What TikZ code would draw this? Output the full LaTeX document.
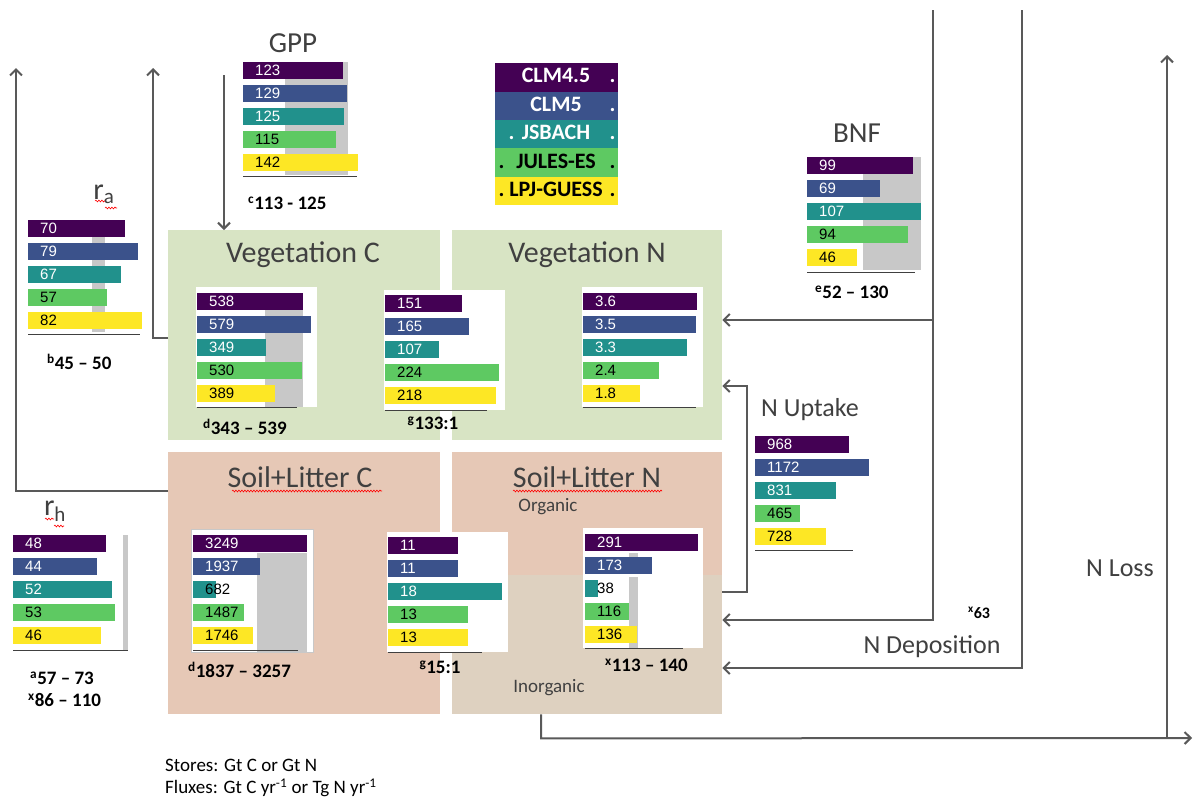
\documentclass[tikz,border=0pt]{standalone}
\usepackage{fontspec}
\setmainfont{Carlito}
\newfontfamily\numfont{Liberation Sans}
\usetikzlibrary{arrows.meta,decorations.pathmorphing}

%% model colours (viridis) and their label colours
\definecolor{m1}{HTML}{440154}
\definecolor{m2}{HTML}{3B528B}
\definecolor{m3}{HTML}{21918C}
\definecolor{m4}{HTML}{5EC962}
\definecolor{m5}{HTML}{FDE725}
\colorlet{t1}{white}\colorlet{t2}{white}\colorlet{t3}{white}
\colorlet{t4}{black}\colorlet{t5}{black}
\definecolor{vegcol}{RGB}{216,228,196}
\definecolor{soilcol}{RGB}{230,200,182}
\definecolor{inorgcol}{RGB}{222,209,192}
\definecolor{rangegray}{RGB}{200,200,200}
\definecolor{titlegray}{RGB}{64,64,64}
\definecolor{linegray}{RGB}{89,89,89}

%% one set of five bars: x, y of first bar, list of length/value
\newcommand{\barset}[3]{%
  \foreach \len/\val [count=\i] in {#3} {
    \pgfmathtruncatemacro\dk{(\len<30)||(\i>3)}
    \ifnum\dk=1 \def\tc{black}\else\def\tc{white}\fi
    \fill[m\i] (#1,{#2+(\i-1)*23}) rectangle ++(\len,17);
    \node[barnum,text=\tc] at ({#1+12},{#2+(\i-1)*23+8.5}) {\val};
  }}

\begin{document}
\begin{tikzpicture}
[x=1pt,y=-1pt,
  storebox/.style={fill=#1,inner sep=0pt,minimum width=272pt,anchor=north west},%
  boxtitle/.style={text=titlegray,inner sep=0pt,font=\fontsize{30}{32}\selectfont},%
  fluxtitle/.style={text=titlegray,inner sep=0pt,font=\fontsize{26}{28}\selectfont},%
  subtitle/.style={text=titlegray,inner sep=0pt,font=\fontsize{19}{20}\selectfont},%
  barnum/.style={anchor=west,inner sep=0pt,font=\numfont\fontsize{15}{15}\selectfont},%
  rangelabel/.style={inner sep=0pt,font=\bfseries\fontsize{19}{19}\selectfont},%
  legbox/.style={anchor=north,inner sep=0pt,minimum width=123pt,minimum height=28.4pt,text height=15pt,text depth=4pt,font=\bfseries\fontsize{22}{22}\selectfont},%
  axisline/.style={draw=titlegray,line width=0.8pt},%
  chartbg/.style={fill=white},%
  squiggle/.style={draw=red,line width=0.6pt,decorate,decoration={snake,amplitude=0.9pt,segment length=3pt}},%
  flux/.style={draw=linegray,line width=2pt,-{Straight Barb[length=6pt,width=12pt]}}]
\useasboundingbox (0,0) rectangle (1194,798);
\fill[white] (0,0) rectangle (1194,798);

%% stores
\node[storebox=vegcol,minimum height=210pt] (vegC) at (168,230) {};
\node[storebox=vegcol,minimum width=270pt,minimum height=210pt] (vegN) at (452,230) {};
\node[storebox=soilcol,minimum height=262pt] (soilC) at (168,452) {};
\node[storebox=soilcol,minimum width=270pt,minimum height=262pt] (soilN) at (452,452) {};
\node[storebox=inorgcol,minimum width=270pt,minimum height=139pt] (inorg) at (452,575) {};

\node[boxtitle] (vegCt) at (303,255) {Vegetation C};
\node[boxtitle] (vegNt) at (587,255) {Vegetation N};
\node[boxtitle] (soilCt) at (300,477) {Soil+Litter C};
\node[boxtitle] (soilNt) at (587,477) {Soil+Litter N};
\node[subtitle] (orgT) at (548,507) {Organic};
\node[subtitle] (inorgT) at (549,688) {Inorganic};
\draw[squiggle] (232,491) -- (382,491);
\draw[squiggle] (513,491) -- (662,491);

%% flux titles
\node[boxtitle,font=\fontsize{29}{30}\selectfont] (gppT) at (293,43) {GPP};
\node[boxtitle,font=\fontsize{29}{30}\selectfont] (bnfT) at (857,133) {BNF};
\node[boxtitle] (raT) at (104,194) {r\textsubscript{a}};
\node[boxtitle] (rhT) at (55,511) {r\textsubscript{h}};
\draw[squiggle] (95,201) -- (105,201);
\draw[squiggle] (105,208) -- (117,208);
\draw[squiggle] (45,519) -- (54,519);
\draw[squiggle] (54,526) -- (64,526);
\node[fluxtitle] (uptT) at (810,410) {N Uptake};
\node[fluxtitle] (lossT) at (1120,568) {N Loss};
\node[fluxtitle] (depT) at (932,647) {N Deposition};

%% legend
\foreach \name [count=\i] in {CLM4.5,CLM5,JSBACH,JULES-ES,LPJ-GUESS}
{
  \node[legbox,fill=m\i,text=t\i] (leg\i) at (556,{63+28.4*(\i-1)}) {\name};
  \node[legbox,anchor=east,minimum width=0pt,text=t\i] at ([xshift=-2pt]leg\i.east) {.};
}
\foreach \i/\dx in {3/14,4/4,5/4}
{
  \node[legbox,anchor=west,minimum width=0pt,text=t\i] at ([xshift=\dx pt]leg\i.west) {.};
}

%% GPP
\fill[rangegray] (285,62) rectangle (348,175);
\barset{243}{62}{100/123,104/129,101/125,93/115,115/142}
\draw[axisline] (243,176) -- (357,176);
\node[rangelabel,anchor=west] (gppR) at (248,203) {\textsuperscript{c}113 - 125};

%% r_a
\fill[rangegray] (92,220) rectangle (105,332);
\barset{28}{220}{97/70,110/79,93/67,79/57,114/82}
\draw[axisline] (28,334) -- (140,334);
\node[rangelabel,anchor=west] (raR) at (47,362) {\textsuperscript{b}45 – 50};

%% BNF
\fill[rangegray] (863,157) rectangle (921,270);
\barset{807}{157}{106/99,73/69,114/107,101/94,50/46}
\draw[axisline] (807,272) -- (915,272);
\node[rangelabel,anchor=west] (bnfR) at (815,292) {\textsuperscript{e}52 – 130};

%% vegetation C
\fill[chartbg] (196,287) rectangle (317,407);
\fill[rangegray] (265,310) rectangle (303,407);
\barset{197}{293}{106/538,114/579,69/349,105/530,78/389}
\draw[axisline] (197,407) -- (297,407);
\node[rangelabel,anchor=west] (vegCR) at (203,427) {\textsuperscript{d}343 – 539};

%% vegetation C:N
\fill[chartbg] (384,290) rectangle (505,410);
\barset{385}{295}{77/151,84/165,54/107,114/224,111/218}
\draw[axisline] (385,410) -- (487,410);
\node[rangelabel] (vegCNR) at (433,423) {\textsuperscript{g}133:1};

%% vegetation N
\fill[chartbg] (582,287) rectangle (703,407);
\barset{583}{293}{114/3.6,113/3.5,104/3.3,76/2.4,57/1.8}
\draw[axisline] (583,407) -- (696,407);

%% N uptake
\barset{755}{436}{94/968,114/1172,81/831,45/465,71/728}
\draw[axisline] (755,550) -- (853,550);

%% r_h
\fill[rangegray] (123,535) rectangle (128,650);
\barset{13}{535}{93/48,84/44,99/52,102/53,88/46}
\draw[axisline] (13,650) -- (128,650);
\node[rangelabel,anchor=west] (rhR1) at (30,678) {\textsuperscript{a}57 – 73};
\node[rangelabel,anchor=west] (rhR2) at (28,700) {\textsuperscript{x}86 – 110};

%% soil C
\filldraw[chartbg,draw=rangegray] (191,529) rectangle (313,652);
\fill[rangegray] (257,553) rectangle (307,652);
\barset{193}{535}{114/3249,67/1937,23/682,51/1487,60/1746}
\draw[axisline] (193,650) -- (298,650);
\node[rangelabel,anchor=west] (soilCR) at (188,670) {\textsuperscript{d}1837 – 3257};

%% soil C:N
\fill[chartbg] (387,532) rectangle (508,652);
\barset{388}{537}{70/11,70/11,114/18,80/13,80/13}
\draw[axisline] (388,652) -- (482,652);
\node[rangelabel] (soilCNR) at (440,667) {\textsuperscript{g}15:1};

%% soil N
\fill[chartbg] (583,528) rectangle (703,648);
\fill[rangegray] (629,577) rectangle (638,648);
\fill[rangegray] (629,553) rectangle (638,557);
\barset{585}{534}{113/291,67/173,13/38,44/116,52/136}
\draw[axisline] (585,648) -- (683,648);
\node[rangelabel,anchor=west] (soilNR) at (605,665) {\textsuperscript{x}113 – 140};

\node[rangelabel,anchor=west,font=\bfseries\fontsize{16}{16}\selectfont] (depR) at (968,613) {\textsuperscript{x}63};

%% fluxes
\coordinate (gppTop) at (224,75);
\coordinate (raTop) at (153,68);
\coordinate (rhTop) at (16,68);
\coordinate (bnfTop) at (933,10);
\coordinate (depTop) at (1022,10);
\coordinate (lossEnd) at (1192,738);
\coordinate (lossTop) at (1167,55);
\draw[flux] (gppTop) -- (gppTop |- vegC.north);
\draw[flux] ([yshift=-3pt]vegC.west) -| (raTop);
\draw[flux] ([yshift=-39pt]soilC.north west) -| (rhTop);
\draw[flux] (bnfTop) |- ([yshift=-90pt]vegN.north east);
\draw[flux] (bnfTop) |- ([yshift=-168pt]soilN.north east);
\draw[flux] (depTop) |- ([yshift=-216pt]soilN.north east);
\draw[flux] ([yshift=-140pt]soilN.north east) -- ++(25,0) |- ([yshift=-156pt]vegN.north east);
\draw[flux] ([xshift=-46pt]soilN.south) -- ++(0,24) -- (lossEnd);
\draw[flux] (lossTop |- lossEnd) -- (lossTop);

%% units
\node[anchor=west,inner sep=0pt,font=\fontsize{19}{20}\selectfont] (units1) at (165,765) {Stores: Gt C or Gt N};
\node[anchor=west,inner sep=0pt,font=\fontsize{19}{20}\selectfont] (units2) at (165,788) {Fluxes: Gt C yr\textsuperscript{-1} or Tg N yr\textsuperscript{-1}};
\end{tikzpicture}
\end{document}
